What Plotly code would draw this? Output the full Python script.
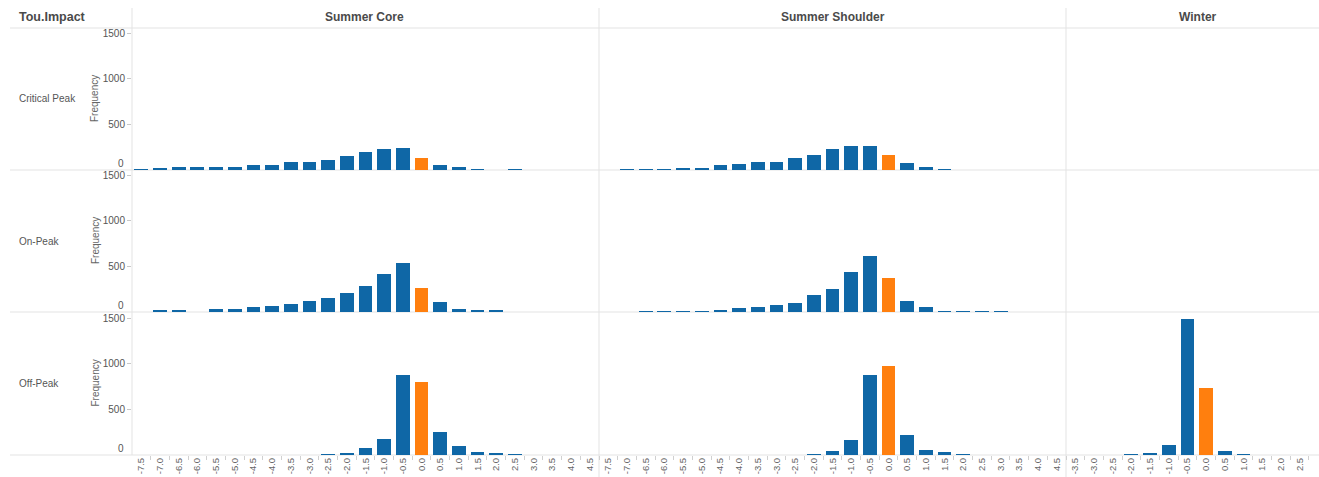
import plotly.graph_objects as go

# ---- data -------------------------------------------------------------
bins_summer = [-7.5, -7.0, -6.5, -6.0, -5.5, -5.0, -4.5, -4.0, -3.5, -3.0, -2.5, -2.0,
               -1.5, -1.0, -0.5, 0.0, 0.5, 1.0, 1.5, 2.0, 2.5, 3.0, 3.5, 4.0, 4.5]
bins_winter = [-3.5, -3.0, -2.5, -2.0, -1.5, -1.0, -0.5, 0.0, 0.5, 1.0, 1.5, 2.0, 2.5, 3.0]

seasons = ["Summer Core", "Summer Shoulder", "Winter"]
tou_impacts = ["Critical Peak", "On-Peak", "Off-Peak"]

core_critical = [11, 18, 29, 29, 37, 37, 59, 59, 88, 88, 110, 154,
                 202, 235, 243, 135, 55, 30, 11, 0, 11, 0, 0, 0, 0]
core_onpeak = [0, 12, 12, 0, 36, 36, 58, 69, 91, 120, 153, 211,
               284, 418, 538, 265, 109, 36, 15, 15, 0, 0, 0, 0, 0]
core_offpeak = [0, 0, 0, 0, 0, 0, 0, 0, 0, 0, 10, 20,
                80, 180, 880, 800, 255, 100, 32, 20, 10, 0, 0, 0, 0]

shoulder_critical = [0, 11, 11, 11, 18, 18, 55, 66, 84, 84, 135, 164,
                     226, 266, 266, 164, 73, 33, 11, 0, 0, 0, 0, 0, 0]
shoulder_onpeak = [0, 0, 11, 11, 11, 11, 18, 40, 51, 80, 102, 182,
                   255, 438, 610, 376, 120, 51, 11, 11, 11, 11, 0, 0, 0]
shoulder_offpeak = [0, 0, 0, 0, 0, 0, 0, 0, 0, 0, 0, 10,
                    40, 165, 880, 975, 220, 60, 30, 10, 0, 0, 0, 0, 0]

winter_critical = []
winter_onpeak = []
winter_offpeak = [0, 0, 0, 10, 20, 110, 1490, 735, 40, 10, 0, 0, 0, 0]

y_ticks = [500, 1000, 1500]

# ---- styling ----------------------------------------------------------
BLUE = "#0f67a6"
ORANGE = "#ff7f0e"
LINE = "#e3e3e3"
TXT = "#555555"
FONT = "Liberation Sans, Arial, sans-serif"

W, H = 1319, 477
col_px = [(132, 599), (599, 1066), (1066, 1319)]
row_px = [(28, 170), (170, 312), (312, 455)]
header_x = [365, 833, 1198]
BIN_PX = (599 - 132) / len(bins_summer)   # pixel width of one 0.5 bin
PX_PER_UNIT = 137 / 1500                   # 1500 frequency spans 137 px

panels = {
    (0, 0): core_critical, (1, 0): core_onpeak, (2, 0): core_offpeak,
    (0, 1): shoulder_critical, (1, 1): shoulder_onpeak, (2, 1): shoulder_offpeak,
    (0, 2): winter_critical, (1, 2): winter_onpeak, (2, 2): winter_offpeak,
}

fig = go.Figure()
layout = {}
annotations = []
shapes = []

idx = 0
for r in range(3):
    for c in range(3):
        idx += 1
        xa = "x" if idx == 1 else f"x{idx}"
        ya = "y" if idx == 1 else f"y{idx}"
        bins = bins_winter if c == 2 else bins_summer
        vals = panels[(r, c)]
        if vals:
            fig.add_trace(go.Bar(
                x=bins, y=vals, width=0.37,
                marker=dict(color=[ORANGE if b == 0.0 else BLUE for b in bins], line_width=0),
                xaxis=xa, yaxis=ya, showlegend=False, hoverinfo="x+y",
            ))
        x0p, x1p = col_px[c]
        y0p, y1p = row_px[r]
        xmin = bins[0] - 0.25
        xmax = xmin + 0.5 * (x1p - x0p) / BIN_PX
        ytop = (y1p - y0p) / PX_PER_UNIT
        bottom = (r == 2)
        layout["xaxis" if idx == 1 else f"xaxis{idx}"] = dict(
            domain=[x0p / W, x1p / W], anchor=ya,
            range=[xmin, xmax], showgrid=False, zeroline=False, showline=False,
            showticklabels=bottom, ticks="",
            tickmode="array", tickvals=bins, ticktext=[f"{b:.1f}" for b in bins],
            tickangle=-90, tickfont=dict(family=FONT, size=9.5, color="#666666"),
            minor=dict(tickmode="array", tickvals=[b + 0.25 for b in bins],
                       ticks="outside" if bottom else "", ticklen=4, tickcolor="#d0d0d0",
                       showgrid=False),
            fixedrange=True,
        )
        layout["yaxis" if idx == 1 else f"yaxis{idx}"] = dict(
            domain=[(H - y1p) / H, (H - y0p) / H], anchor=xa,
            range=[0, ytop], showgrid=False, zeroline=False, showline=False,
            tickmode="array", tickvals=y_ticks, showticklabels=(c == 0),
            ticks="outside" if c == 0 else "", ticklen=4, tickcolor="#c8c8c8",
            tickfont=dict(family=FONT, size=10, color=TXT), fixedrange=True,
        )
        if c == 0:
            # zero label nudged upward so it clears the next row's 1500
            annotations.append(dict(xref="paper", yref=ya, x=126 / W, y=0, yshift=7,
                                    text="0", showarrow=False, xanchor="right", yanchor="middle",
                                    font=dict(family=FONT, size=10, color=TXT)))

# row headers and axis titles
for r, name in enumerate(tou_impacts):
    yc = 1 - ((row_px[r][0] + row_px[r][1]) / 2) / H
    annotations.append(dict(xref="paper", yref="paper", x=17 / W, y=yc, text=name,
                            showarrow=False, xanchor="left", yanchor="middle",
                            font=dict(family=FONT, size=10, color=TXT)))
    annotations.append(dict(xref="paper", yref="paper", x=95 / W, y=yc, text="Frequency",
                            showarrow=False, textangle=-90, xanchor="center", yanchor="middle",
                            font=dict(family=FONT, size=10, color="#666666")))

# column headers
for c, name in enumerate(seasons):
    annotations.append(dict(xref="paper", yref="paper", x=header_x[c] / W, y=1 - 17 / H,
                            text=f"<b>{name}</b>", showarrow=False,
                            xanchor="center", yanchor="middle",
                            font=dict(family=FONT, size=12, color="#4a4a4a")))
annotations.append(dict(xref="paper", yref="paper", x=17 / W, y=1 - 17 / H, text="<b>Tou.Impact</b>",
                        showarrow=False, xanchor="left", yanchor="middle",
                        font=dict(family=FONT, size=12.5, color="#4a4a4a")))

# header rule and row rules
for yp in [28, 170, 312, 455]:
    shapes.append(dict(type="line", xref="paper", yref="paper", x0=10 / W, x1=1,
                       y0=1 - yp / H, y1=1 - yp / H, line=dict(color=LINE, width=1), layer="below"))
# column separators
shapes.append(dict(type="line", xref="paper", yref="paper", x0=132 / W, x1=132 / W,
                   y0=1 - 455 / H, y1=1 - 8 / H, line=dict(color=LINE, width=1), layer="below"))
for xp in [599, 1066]:
    shapes.append(dict(type="line", xref="paper", yref="paper", x0=xp / W, x1=xp / W,
                       y0=0, y1=1 - 8 / H, line=dict(color=LINE, width=1), layer="below"))

fig.update_layout(
    **layout,
    width=W, height=H,
    margin=dict(l=0, r=0, t=0, b=0),
    paper_bgcolor="white", plot_bgcolor="white",
    bargap=0, annotations=annotations, shapes=shapes,
    font=dict(family=FONT),
)

fig.write_html("out.html", config={"displayModeBar": False})
